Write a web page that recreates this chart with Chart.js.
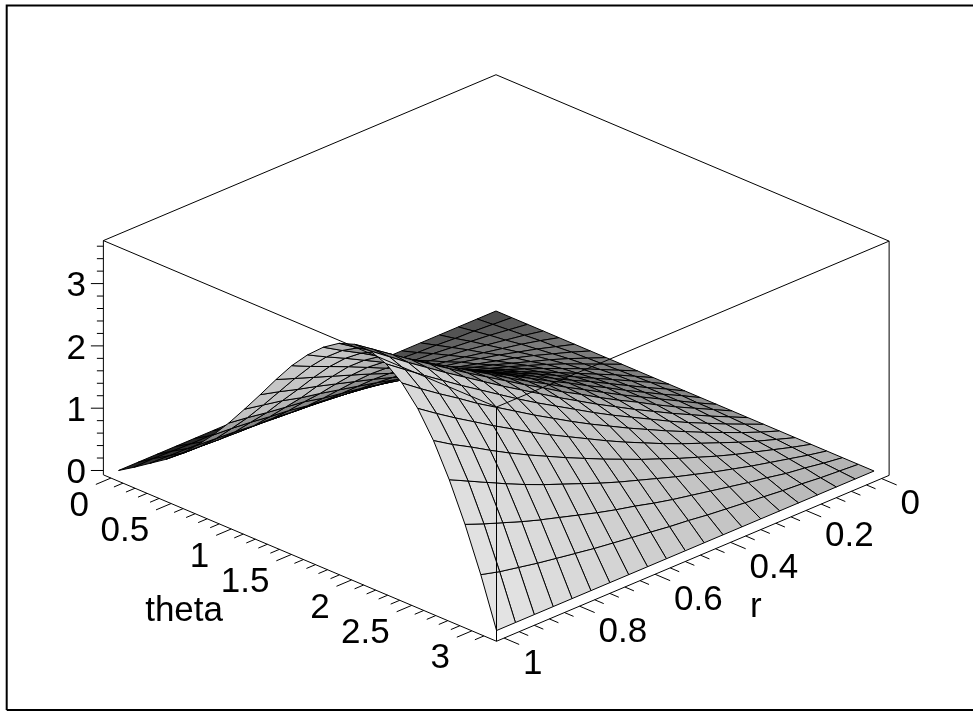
<!DOCTYPE html>
<html>
<head>
<meta charset="utf-8">
<style>html,body{margin:0;padding:0;background:#fff}canvas{display:block}</style>
<script src="https://cdn.jsdelivr.net/npm/chart.js@4"></script>
</head>
<body>
<canvas id="c" width="973" height="711"></canvas>
<script>
const thetaValues=[0,0.131,0.262,0.393,0.524,0.654,0.785,0.916,1.047,1.178,1.309,1.44,1.571,1.702,1.833,1.963,2.094,2.225,2.356,2.487,2.618,2.749,2.88,3.011,3.142];
const rValues=[0,.05,.1,.15,.2,.25,.3,.35,.4,.45,.5,.55,.6,.65,.7,.75,.8,.85,.9,.95,1];
const zByTheta=[
[0,0,0,0,0,0,0,0,0,0,0,0,0,0,0,0,0,0,0,0,0],
[0,.02,.04,.05,.07,.08,.10,.11,.12,.12,.13,.13,.13,.13,.14,.14,.15,.15,.16,.17,.16],
[0,.04,.08,.11,.14,.17,.19,.21,.23,.25,.26,.27,.27,.27,.28,.29,.30,.30,.31,.32,.33],
[0,.06,.11,.16,.21,.25,.29,.32,.35,.38,.39,.41,.42,.43,.44,.45,.46,.47,.47,.48,.50],
[0,.08,.15,.21,.27,.33,.38,.43,.47,.51,.54,.56,.58,.59,.61,.63,.65,.66,.67,.69,.70],
[0,.09,.18,.26,.34,.41,.48,.54,.59,.64,.68,.72,.75,.78,.81,.83,.86,.87,.90,.92,.94],
[0,.11,.21,.31,.40,.48,.56,.64,.71,.77,.83,.88,.93,.97,1.01,1.04,1.09,1.12,1.16,1.19,1.21],
[0,.12,.24,.35,.45,.55,.65,.74,.82,.90,.98,1.04,1.11,1.17,1.22,1.27,1.34,1.38,1.42,1.47,1.51],
[0,.13,.26,.39,.51,.62,.73,.83,.93,1.03,1.12,1.21,1.29,1.37,1.44,1.51,1.58,1.64,1.72,1.78,1.84],
[0,.14,.28,.42,.55,.68,.80,.92,1.03,1.15,1.26,1.36,1.46,1.56,1.66,1.75,1.84,1.93,2.01,2.10,2.18],
[0,.15,.30,.44,.58,.72,.86,.99,1.13,1.25,1.38,1.50,1.63,1.75,1.86,1.98,2.09,2.20,2.31,2.42,2.53],
[0,.16,.31,.46,.61,.76,.91,1.06,1.20,1.34,1.49,1.63,1.77,1.91,2.05,2.18,2.32,2.46,2.59,2.72,2.86],
[0,.16,.31,.47,.63,.79,.94,1.10,1.26,1.41,1.57,1.73,1.89,2.04,2.20,2.36,2.51,2.67,2.83,2.98,3.14],
[0,.16,.31,.47,.63,.80,.96,1.13,1.29,1.46,1.63,1.80,1.97,2.14,2.31,2.49,2.66,2.84,3.02,3.19,3.37],
[0,.15,.31,.47,.63,.79,.96,1.13,1.30,1.48,1.65,1.83,2.02,2.20,2.39,2.57,2.76,2.95,3.15,3.34,3.54],
[0,.15,.30,.45,.61,.78,.94,1.11,1.29,1.46,1.65,1.83,2.02,2.21,2.40,2.60,2.80,3.00,3.21,3.42,3.63],
[0,.14,.28,.43,.58,.74,.90,1.07,1.24,1.42,1.60,1.79,1.98,2.17,2.37,2.57,2.77,2.98,3.19,3.41,3.63],
[0,.13,.26,.40,.54,.69,.85,1.01,1.17,1.34,1.52,1.70,1.88,2.07,2.27,2.47,2.67,2.88,3.09,3.31,3.53],
[0,.11,.23,.36,.49,.63,.77,.92,1.07,1.23,1.39,1.56,1.74,1.92,2.11,2.30,2.49,2.70,2.90,3.11,3.33],
[0,.10,.20,.31,.43,.55,.67,.80,.94,1.08,1.23,1.39,1.55,1.71,1.88,2.06,2.24,2.43,2.62,2.82,3.03],
[0,.08,.17,.26,.35,.45,.56,.67,.79,.91,1.04,1.17,1.31,1.45,1.60,1.75,1.91,2.08,2.26,2.43,2.62],
[0,.06,.13,.20,.27,.35,.43,.52,.61,.71,.81,.91,1.02,1.14,1.26,1.38,1.51,1.65,1.80,1.95,2.10],
[0,.04,.09,.13,.19,.24,.30,.36,.42,.48,.55,.63,.70,.78,.87,.96,1.05,1.15,1.26,1.37,1.49],
[0,.02,.04,.07,.09,.12,.15,.18,.21,.25,.28,.32,.36,.40,.44,.49,.54,.59,.65,.71,.79],
[0,0,0,0,0,0,0,0,0,0,0,0,0,0,0,0,0,0,0,0,0]
];
const zTickLabels=["0","1","2","3"];
const thetaTickLabels=["0","0.5","1","1.5","2","2.5","3"];
const rTickLabels=["0","0.2","0.4","0.6","0.8","1"];
const thetaAxisTitle="theta", rAxisTitle="r";

const PI=Math.PI;
const PAD=.02, ZLOW=-.07, ZHIGH=3.69;
const px=(f,r)=>496+378*f-377.5*r;
const py=(f,r,z)=>311+160*f+159.5*r-62.3*z;
const P=(f,r,z)=>({x:px(f,r),y:py(f,r,z)});
const GAP={x:null,y:null};

function surfaceDatasets(){
  const quads=[];
  const cellArea=251.7;
  for(let j=0;j<thetaValues.length-1;j++){
    for(let i=0;i<rValues.length-1;i++){
      const c=[[j,i],[j+1,i],[j+1,i+1],[j,i+1]].map(([a,b])=>{
        const f=thetaValues[a]/PI,r=rValues[b],z=zByTheta[a][b];
        return {f,r,z,p:P(f,r,z)};
      });
      const mf=(c[0].f+c[1].f)/2, mr=(c[0].r+c[3].r)/2;
      const mz=(c[0].z+c[1].z+c[2].z+c[3].z)/4;
      const ax=c[2].p.x-c[0].p.x, ay=c[2].p.y-c[0].p.y, bx=c[3].p.x-c[1].p.x, by=c[3].p.y-c[1].p.y;
      const area=Math.abs(ax*by-ay*bx)/2/cellArea;
      const t=Math.min(1,(mf+mr)/.5);
      let g=.27+.43*t+.2*mr*mf;
      g*=Math.min(1,.3+1.2*area);
      g*=1-(1-Math.min(1,mf/.22))*Math.min(1,mr/.5)*.75;
      const v=Math.round(g*255);
      quads.push({depth:.64*mf+.64*mr+.423*.1287*mz,
        data:[c[0].p,c[1].p,c[2].p,c[3].p,c[0].p],color:`rgb(${v},${v},${v})`});
    }
  }
  quads.sort((a,b)=>b.depth-a.depth);
  return quads.map(q=>({data:q.data,fill:'shape',backgroundColor:q.color,borderColor:'#000',borderWidth:1,
    pointRadius:0,showLine:true,tension:0}));
}

function lineSet(points,width,color){
  return {data:points,showLine:true,fill:false,borderColor:color||'#000',borderWidth:width||1,pointRadius:0,spanGaps:false,tension:0};
}
const lo=-PAD, hi=1+PAD;
const boxTop=[P(lo,hi,ZHIGH),P(lo,lo,ZHIGH),P(hi,lo,ZHIGH),P(hi,hi,ZHIGH),P(lo,hi,ZHIGH)];
const boxBottom=[P(lo,hi,ZLOW),P(hi,hi,ZLOW),P(hi,lo,ZLOW)];
const edgeL=[P(lo,hi,ZLOW),P(lo,hi,ZHIGH)], edgeF=[P(hi,hi,ZLOW),P(hi,hi,ZHIGH)], edgeR=[P(hi,lo,ZLOW),P(hi,lo,ZHIGH)];

const tickPts=[];
for(let k=0;k<=31;k++){
  const f=k*.1/PI, major=k%5===0, b=P(f,hi,ZLOW);
  tickPts.push(b,major?P(f,hi+.04,ZLOW):P(f,hi+.024,ZLOW),GAP);
}
for(let k=0;k<=25;k++){
  const r=k*.04, major=k%5===0, b=P(hi,r,ZLOW);
  tickPts.push(b,major?P(hi+.04,r,ZLOW):P(hi+.024,r,ZLOW),GAP);
}
const zx=px(lo,hi);
for(let k=0;k<=18;k++){
  const z=k*.2, major=k%5===0, y=py(lo,hi,z);
  tickPts.push({x:zx,y},{x:zx-(major?12.5:6.5),y},GAP);
}
const frame=lineSet([{x:6.7,y:710},{x:6.7,y:5.4},{x:973,y:5.4},GAP,{x:6.7,y:710},{x:973,y:710}],2);

const labels={id:'labels',afterDraw(chart){
  const {ctx,scales:{x,y}}=chart;
  ctx.save();ctx.fillStyle='#000';ctx.font='35px "Liberation Sans", Arial, sans-serif';ctx.textBaseline='middle';
  const put=(s,a,b,al)=>{ctx.textAlign=al;ctx.fillText(s,x.getPixelForValue(a),y.getPixelForValue(b));};
  zTickLabels.forEach(s=>{put(s,86,py(lo,hi,+s)+3,'right');});
  thetaTickLabels.forEach(s=>{const b=P(+s/PI,hi,ZLOW);put(s,b.x-22,b.y+28,'right');});
  rTickLabels.forEach(s=>{const b=P(hi,+s,ZLOW);put(s,b.x+19,b.y+26,'left');});
  put(thetaAxisTitle,223,611,'right');
  put(rAxisTitle,750,607,'left');
  ctx.restore();
}};

new Chart(document.getElementById('c'),{
  type:'scatter',
  data:{datasets:[frame,lineSet(boxTop),lineSet(boxBottom),lineSet(edgeL),lineSet(edgeF),lineSet(edgeR),lineSet(tickPts),...surfaceDatasets()]},
  options:{
    responsive:false,animation:false,events:[],
    layout:{padding:0},
    plugins:{legend:{display:false},tooltip:{enabled:false},title:{display:false}},
    elements:{line:{borderCapStyle:'butt',borderJoinStyle:'miter'}},
    scales:{
      x:{type:'linear',display:false,min:0,max:973},
      y:{type:'linear',display:false,min:0,max:711,reverse:true}
    }
  },
  plugins:[labels]
});
</script>
</body>
</html>
